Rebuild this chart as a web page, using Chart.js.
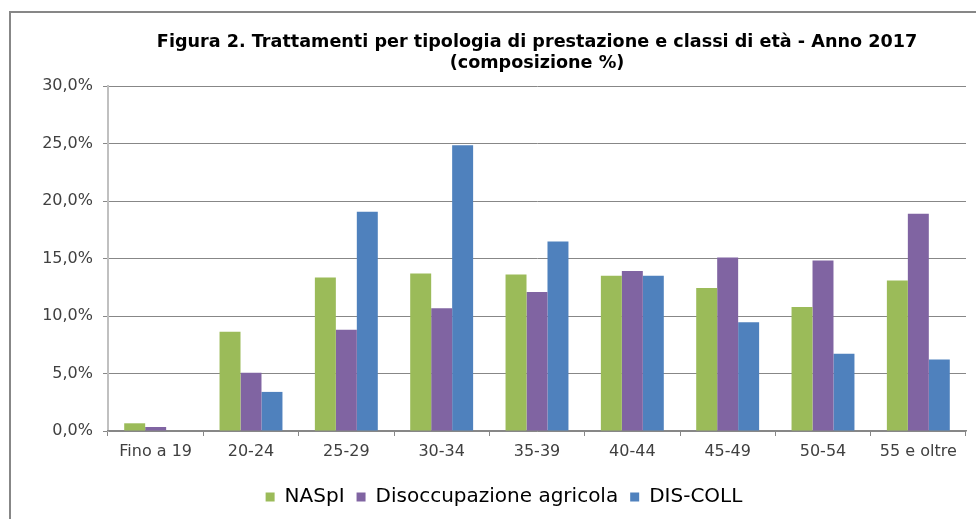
<!DOCTYPE html>
<html>
<head>
<meta charset="utf-8">
<script src="https://cdn.jsdelivr.net/npm/chart.js@4"></script>
<style>
    html, body {margin: 0; padding: 0; background: #fff; overflow: hidden;}
    #frame {position: absolute; left: 9px; top: 11px; width: 1100px; height: 700px; border: 2px solid #878787;}
    #wrap {position: absolute; left: 0; top: 0; width: 976px; height: 519px;}
</style>
</head>
<body>
<div id="frame"></div>
<div id="wrap"><canvas id="grafico"></canvas></div>
<script>
const classi = ['Fino a 19', '20-24', '25-29', '30-34', '35-39', '40-44', '45-49', '50-54', '55 e oltre'],
      naspi = [0.67, 8.63, 13.34, 13.69, 13.60, 13.51, 12.44, 10.78, 13.08],
      agricola = [0.35, 5.06, 8.80, 10.67, 12.09, 13.92, 15.08, 14.82, 18.89],
      discoll = [0, 3.40, 19.07, 24.85, 16.48, 13.51, 9.45, 6.71, 6.22],
      titolo = ['Figura 2. Trattamenti per tipologia di prestazione e classi di età - Anno 2017', '(composizione %)'];

const ctx = document.getElementById('grafico').getContext('2d');

// titolo centrato sull'area del grafico (come in Excel)
const titoloPlugin = {
    id: 'titolo',
    afterDraw(chart) {
        const c = chart.ctx,
              x = (chart.chartArea.left + chart.chartArea.right) / 2;
        c.save();
        c.font = 'bold 17.6px "DejaVu Sans"';
        c.fillStyle = '#000';
        c.textAlign = 'center';
        c.textBaseline = 'middle';
        c.fillText(titolo[0], x, 42);
        c.fillText(titolo[1], x, 63);
        c.restore();
    }
};

new Chart(ctx, {
    type: 'bar',
    data: {
        labels: classi,
        datasets: [
            {label: 'NASpI', data: naspi, backgroundColor: '#9BBB59'},
            {label: 'Disoccupazione agricola', data: agricola, backgroundColor: '#8064A2'},
            {label: 'DIS-COLL', data: discoll, backgroundColor: '#4F81BD'}
        ]
    },
    options: {
        responsive: true,
        maintainAspectRatio: false,
        animation: false,
        categoryPercentage: 0.66,
        barPercentage: 1,
        layout: {padding: {left: 42, right: 10, top: 86, bottom: 2}},
        scales: {
            y: {
                min: 0,
                max: 30,
                afterFit: scale => { scale.width = 66; },
                ticks: {
                    stepSize: 5,
                    padding: 10,
                    color: '#404040',
                    font: {family: 'DejaVu Sans', size: 16},
                    callback: value => value.toFixed(1).replace('.', ',') + '%'
                },
                grid: {color: '#878787', tickLength: 5},
                border: {color: '#C0C0C0', width: 2}
            },
            x: {
                afterFit: scale => { scale.height = 44; },
                ticks: {
                    padding: 6,
                    color: '#404040',
                    font: {family: 'DejaVu Sans', size: 16}
                },
                grid: {drawOnChartArea: false, color: '#878787', tickLength: 5},
                border: {color: '#878787', width: 1.5}
            }
        },
        plugins: {
            title: {display: false},
            tooltip: {enabled: false},
            legend: {
                position: 'bottom',
                labels: {
                    boxWidth: 9,
                    boxHeight: 9,
                    padding: 12,
                    color: '#000',
                    font: {family: 'DejaVu Sans', size: 20}
                }
            }
        }
    },
    plugins: [titoloPlugin]
});
</script>
</body>
</html>
